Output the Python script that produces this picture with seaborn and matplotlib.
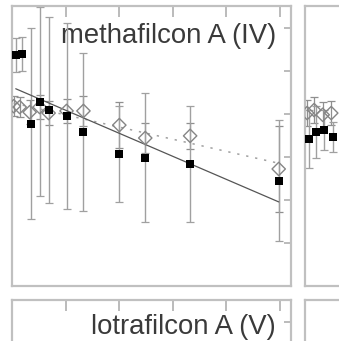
import numpy as np
import pandas as pd
import matplotlib
matplotlib.use("Agg")
import matplotlib.pyplot as plt
import seaborn as sns

# --- methafilcon A (IV) ---
time_sq_iv = [0.35, 0.90, 1.74, 2.58, 3.42, 5.09, 6.67, 10.02, 12.44, 16.63, 24.90]
val_sq_iv = [5.36, 5.38, 3.76, 4.27, 4.08, 3.94, 3.57, 3.06, 2.97, 2.83, 2.44]
err_sq_iv = [0.40, 0.40, 2.22, 2.20, 2.17, 2.16, 1.84, 1.12, 1.50, 1.35, 1.40]

time_dm_iv = [0.16, 0.72, 1.65, 2.58, 3.42, 5.09, 6.67, 10.02, 12.44, 16.63, 24.90]
val_dm_iv = [4.17, 4.15, 4.03, 4.15, 4.01, 4.06, 4.06, 3.73, 3.43, 3.48, 2.71]
err_dm_iv = [0.23, 0.23, 0.28, 0.28, 0.28, 0.28, 0.35, 0.53, 0.35, 0.30, 1.00]

# --- neighbouring panel (first time points) ---
time_sq_2 = [0.35, 0.99, 1.74, 2.58]
val_sq_2 = [3.41, 3.57, 3.62, 3.45]
err_sq_2 = [0.67, 0.60, 0.47, 0.35]

time_dm_2 = [0.20, 0.85, 1.65, 2.45]
val_dm_2 = [4.01, 4.08, 3.97, 4.01]
err_dm_2 = [0.30, 0.30, 0.30, 0.28]

panel_titles = ["methafilcon A (IV)", "", "lotrafilcon A (V)", ""]
title_y = [0.868, 0.868, 0.878, 0.878]
x_ticks = [5, 10, 15, 20, 25]
y_ticks = [1, 2, 3, 4, 5, 6]

sns.set_style("white")
plt.rcParams["font.family"] = ["Liberation Sans", "DejaVu Sans"]

W, H = 339, 341
fig = plt.figure(figsize=(W / 100, H / 100), dpi=100)

SPINE = "#c0c0c0"
TICK = "#a8a8a8"


def make_axes(left_px, top_px, w_px=278.5, h_px=279.5):
    ax = fig.add_axes([left_px / W, (H - top_px - h_px) / H, w_px / W, h_px / H])
    ax.set_xlim(0, 26)
    ax.set_ylim(0, 6.5)
    ax.set_xticks(x_ticks)
    ax.set_yticks(y_ticks)
    ax.tick_params(axis="both", which="both", direction="in", labelbottom=False,
                   labelleft=False, top=True, right=True, colors=TICK, width=1.1)
    ax.tick_params(axis="x", length=8)
    ax.tick_params(axis="y", length=5)
    for s in ax.spines.values():
        s.set_color(SPINE)
        s.set_linewidth(1.6)
    ax.set_facecolor("white")
    return ax


def draw_series(ax, t_sq, v_sq, e_sq, t_dm, v_dm, e_dm, fit=True):
    ax.errorbar(t_dm, v_dm, yerr=e_dm, fmt="none", ecolor="#8f8f8f",
                elinewidth=0.9, capsize=2.6, capthick=0.9, zorder=2)
    ax.errorbar(t_sq, v_sq, yerr=e_sq, fmt="none", ecolor="#a0a0a0",
                elinewidth=1.0, capsize=2.6, capthick=0.9, zorder=2)
    if fit:
        sns.regplot(x=np.asarray(t_dm), y=np.asarray(v_dm), ax=ax, ci=None,
                    scatter=False, truncate=True,
                    line_kws=dict(color="#a0a0a0", lw=1.1, ls=(0, (1.5, 4.5)), zorder=3))
        sns.regplot(x=np.asarray(t_sq), y=np.asarray(v_sq), ax=ax, ci=None,
                    scatter=False, truncate=True,
                    line_kws=dict(color="#555555", lw=0.9, zorder=3))
    ax.scatter(t_dm, v_dm, marker="D", s=6.8 ** 2, facecolors="none",
               edgecolors="#858585", linewidths=1.0, zorder=4)
    ax.scatter(t_sq, v_sq, marker="s", s=5.2 ** 2, color="black",
               linewidths=0, zorder=5)
    ax.set_xlim(0, 26)
    ax.set_ylim(0, 6.5)
    ax.set_xlabel("")
    ax.set_ylabel("")


ax_tl = make_axes(12, 6)
draw_series(ax_tl, time_sq_iv, val_sq_iv, err_sq_iv, time_dm_iv, val_dm_iv, err_dm_iv)

ax_tr = make_axes(305, 6)
draw_series(ax_tr, time_sq_2, val_sq_2, err_sq_2, time_dm_2, val_dm_2, err_dm_2, fit=False)

ax_bl = make_axes(12, 300)
ax_br = make_axes(305, 300)

for ax, title, ty in zip([ax_tl, ax_tr, ax_bl, ax_br], panel_titles, title_y):
    if title:
        ax.text(0.948, ty, title, transform=ax.transAxes, ha="right",
                va="baseline", fontsize=19.8, color="#3a3a3a", zorder=1)

fig.savefig("out.png", dpi=100)
